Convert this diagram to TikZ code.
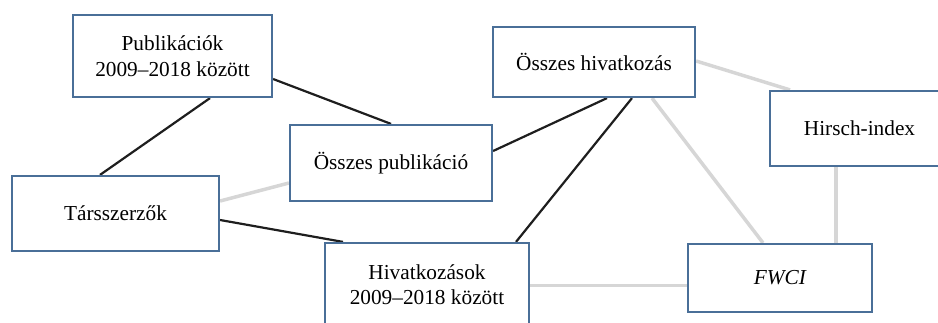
\documentclass[tikz,border=0pt]{standalone}
\usepackage{fontspec}
\setmainfont{Liberation Serif}
\usetikzlibrary{backgrounds}
\definecolor{boxblue}{HTML}{4A6F98}
\definecolor{lightgray}{HTML}{D6D6D6}
\definecolor{darkline}{HTML}{1E1E1E}
\tikzset{
  box/.style={draw=boxblue, line width=2.2pt, fill=white, inner sep=0pt, align=center,
    font=\fontsize{21.3pt}{25.5pt}\selectfont},
  strong/.style={draw=darkline, line width=2.2pt},
  weak/.style={draw=lightgray, line width=3.5pt},
}
\begin{document}
\begin{tikzpicture}[x=1pt,y=-1pt]
\useasboundingbox (0,0) rectangle (938,322);
\node[box, minimum width=199pt, minimum height=82pt] (pub) at (172.5,56) {Publikációk\\2009–2018 között};
\node[box, minimum width=202pt, minimum height=76pt] (osspub) at (391,163) {Összes publikáció};
\node[box, minimum width=207pt, minimum height=75pt] (tars) at (115.5,213.5) {Társszerzők};
\node[box, minimum width=204pt, minimum height=83pt] (hiv) at (427,284.5) {Hivatkozások\\2009–2018 között};
\node[box, minimum width=202pt, minimum height=70pt] (osshiv) at (594,62) {Összes hivatkozás};
\node[box, minimum width=179pt, minimum height=75pt] (hirsch) at (859.5,128.5) {Hirsch-index};
\node[box, minimum width=184pt, minimum height=68pt] (fwci) at (780,278) {\itshape FWCI};
\begin{scope}[on background layer]
\draw[strong] ([xshift=37.5pt]pub.south) -- ([xshift=-15.5pt]tars.north);
\draw[strong] ([yshift=-23pt]pub.east) -- (osspub.north);
\draw[weak] ([yshift=12.5pt]tars.east) -- ([yshift=-20pt]osspub.west);
\draw[strong] ([yshift=-6.5pt]tars.east) -- ([xshift=-84pt]hiv.north);
\draw[strong] ([yshift=12pt]osspub.east) -- ([xshift=13pt]osshiv.south);
\draw[strong] ([xshift=38pt]osshiv.south) -- ([xshift=89pt]hiv.north);
\draw[weak] ([xshift=58pt]osshiv.south) -- ([xshift=-17pt]fwci.north);
\draw[weak] ([yshift=1pt]osshiv.east) -- ([xshift=-69.5pt]hirsch.north);
\draw[weak] ([xshift=-23.5pt]hirsch.south) -- ([xshift=56pt]fwci.north);
\draw[weak] ([yshift=-1.2pt]hiv.east) -- ([yshift=-7.7pt]fwci.west);
\end{scope}
\end{tikzpicture}
\end{document}
